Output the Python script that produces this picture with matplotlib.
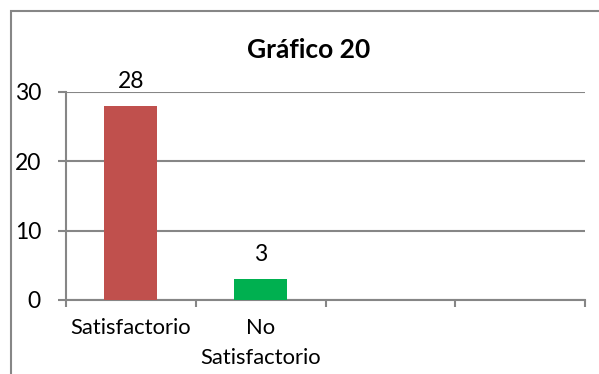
import numpy as np
import matplotlib
matplotlib.use("Agg")
import matplotlib.pyplot as plt
from matplotlib.patches import Rectangle

title = "Gráfico 20"
categories = ["Satisfactorio", "No\nSatisfactorio", "", ""]
values = [28, 3, np.nan, np.nan]
colors = ["#C0504D", "#00B050", "#4F81BD", "#4F81BD"]
yticks = [0, 10, 20, 30]

plt.rcParams['font.family'] = ['Lato', 'DejaVu Sans']
GRAY = "#868686"

fig = plt.figure(figsize=(5.99, 3.74), dpi=100)
fig.patch.set_facecolor("white")
fig.patches.append(Rectangle((10.5/599, -0.05), 1.2, 1 - 10.5/374 + 0.05,
                             transform=fig.transFigure, fill=False,
                             edgecolor=GRAY, linewidth=1.5))

ax = fig.add_axes([66/599, 1 - 300/374, (585 - 66)/599, (300 - 92)/374])
x = np.arange(len(categories))
ax.bar(x, values, width=0.41, color=colors, zorder=3)
for xi, v in zip(x, values):
    if not np.isnan(v):
        ax.text(xi, v + 2.6, f"{int(v)}", ha="center", va="baseline",
                fontsize=16.5, color="black")

ax.set_xlim(-0.5, len(categories) - 0.5)
ax.set_ylim(0, 30)
ax.set_yticks(yticks)
ax.set_yticklabels([str(t) for t in yticks], fontsize=16.5)
ax.yaxis.grid(True, color=GRAY, linewidth=1.5, zorder=0)
ax.tick_params(axis="y", length=6, width=1.5, color=GRAY, pad=12)

ax.set_xticks(x)
ax.set_xticklabels(categories, fontsize=15.8, linespacing=1.6)
ax.set_xticks(np.arange(-0.5, len(categories), 1.0), minor=True)
ax.tick_params(axis="x", which="major", length=0, pad=13)
ax.tick_params(axis="x", which="minor", length=5, width=1.5, color=GRAY)

for s in ["top", "right"]:
    ax.spines[s].set_visible(False)
for s in ["left", "bottom"]:
    ax.spines[s].set_color(GRAY)
    ax.spines[s].set_linewidth(1.5)

fig.text(309/599, 1 - 58/374, title, ha="center", va="baseline",
         fontsize=19, fontweight="bold")

fig.savefig("out.png", dpi=100)
